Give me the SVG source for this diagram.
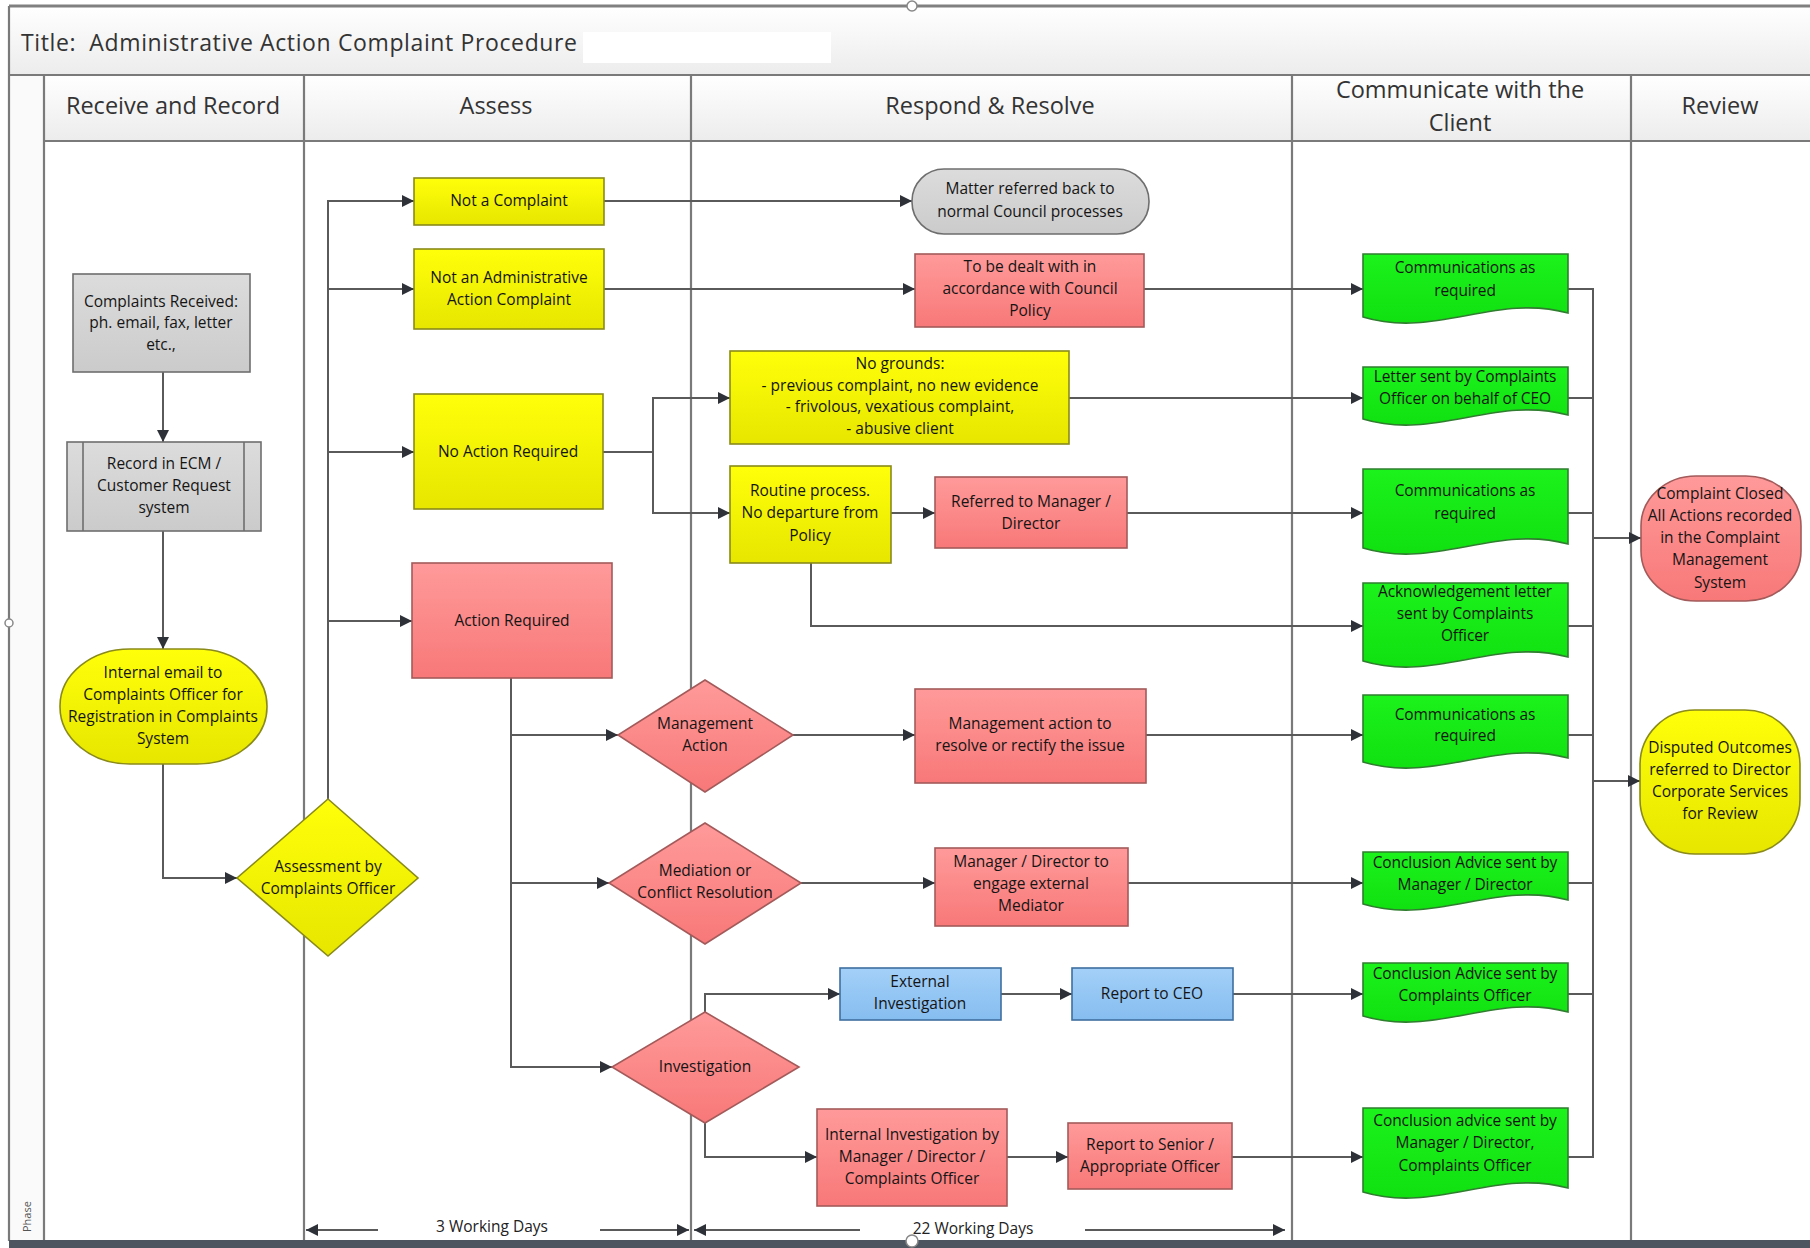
<svg xmlns="http://www.w3.org/2000/svg" width="1810" height="1248" viewBox="0 0 1810 1248">
<defs>
<linearGradient id="gBar" x1="0" y1="0" x2="0" y2="1"><stop offset="0" stop-color="#ffffff"/><stop offset="1" stop-color="#ececec"/></linearGradient>
<linearGradient id="gY" x1="0" y1="0" x2="0" y2="1"><stop offset="0" stop-color="#ffff0a"/><stop offset="1" stop-color="#e6e600"/></linearGradient>
<linearGradient id="gR" x1="0" y1="0" x2="0" y2="1"><stop offset="0" stop-color="#ff9a9a"/><stop offset="1" stop-color="#f87878"/></linearGradient>
<linearGradient id="gG" x1="0" y1="0" x2="0" y2="1"><stop offset="0" stop-color="#1cf21c"/><stop offset="1" stop-color="#10e010"/></linearGradient>
<linearGradient id="gB" x1="0" y1="0" x2="0" y2="1"><stop offset="0" stop-color="#a3d0f8"/><stop offset="1" stop-color="#86bdf0"/></linearGradient>
<linearGradient id="gX" x1="0" y1="0" x2="0" y2="1"><stop offset="0" stop-color="#dcdcdc"/><stop offset="1" stop-color="#cbcbcb"/></linearGradient>
<marker id="arr" viewBox="0 0 10 10" refX="10" refY="5" markerWidth="13" markerHeight="12" markerUnits="userSpaceOnUse" orient="auto-start-reverse"><path d="M0,0 L10,5 L0,10 z" fill="#2e3238"/></marker>
<style>
.lane{stroke:#7a7a7a;stroke-width:2.2;fill:none}
.hdr{font-family:"Open Sans","Liberation Sans",Arial,sans-serif;font-size:23.5px;fill:#333;text-anchor:middle}
.t{font-family:"Open Sans","Liberation Sans",Arial,sans-serif;font-size:15.5px;fill:#151515;text-anchor:middle}
.td{font-family:"Open Sans","Liberation Sans",Arial,sans-serif;font-size:15.5px;fill:#151515;text-anchor:middle;letter-spacing:-0.1px}
.yel{fill:url(#gY);stroke:#8a8a1a;stroke-width:1.6}
.red{fill:url(#gR);stroke:#a35a5a;stroke-width:1.6}
.grn{fill:url(#gG);stroke:#2f7d2f;stroke-width:1.6}
.blu{fill:url(#gB);stroke:#3f6f9f;stroke-width:1.6}
.gry{fill:url(#gX);stroke:#6e6e6e;stroke-width:1.6}
.c{fill:none;stroke:#5a5a5a;stroke-width:2}
.ca{fill:none;stroke:#5a5a5a;stroke-width:2;marker-end:url(#arr)}
.dim{fill:none;stroke:#5a5a5a;stroke-width:2.2;marker-end:url(#arr)}
.hd{fill:#fff;stroke:#888;stroke-width:1.5}
</style>
</defs>
<rect width="1810" height="1248" fill="#ffffff"/>
<g id="frame">
<rect x="9" y="6" width="1801" height="69" fill="url(#gBar)"/>
<rect x="583" y="32" width="248" height="31" fill="#ffffff"/>
<rect x="44" y="75" width="1766" height="66" fill="url(#gBar)"/>
<rect x="9" y="75" width="35" height="1166" fill="#fafafa"/>
<line x1="9" y1="6" x2="1810" y2="6" stroke="#808080" stroke-width="3"/>
<line x1="9" y1="75" x2="1810" y2="75" class="lane" stroke-width="3"/>
<line x1="44" y1="141" x2="1810" y2="141" class="lane" stroke-width="3"/>
<line x1="9" y1="6" x2="9" y2="1241" class="lane"/>
<line x1="44" y1="75" x2="44" y2="1241" class="lane"/>
<line x1="304" y1="75" x2="304" y2="1241" class="lane"/>
<line x1="691" y1="75" x2="691" y2="1241" class="lane"/>
<line x1="1292" y1="75" x2="1292" y2="1241" class="lane"/>
<line x1="1631" y1="75" x2="1631" y2="1241" class="lane"/>
<rect x="9" y="1240" width="1801" height="8" fill="#4d5660"/>
<circle cx="912" cy="6" r="5" class="hd"/>
<circle cx="912" cy="1241" r="6" class="hd"/>
<circle cx="9" cy="623" r="4" class="hd"/>
<text x="21" y="51" font-family="'Open Sans','Liberation Sans',Arial,sans-serif" font-size="23" fill="#333" xml:space="preserve" textLength="556" lengthAdjust="spacing">Title:  Administrative Action Complaint Procedure</text>
<text class="hdr" x="173" y="114">Receive and Record</text>
<text class="hdr" x="496" y="114">Assess</text>
<text class="hdr" x="990" y="114">Respond &amp; Resolve</text>
<text class="hdr" x="1460" y="98">Communicate with the</text>
<text class="hdr" x="1460" y="131">Client</text>
<text class="hdr" x="1720" y="114">Review</text>
<text x="31" y="1232" transform="rotate(-90 31 1232)" font-family="'Open Sans','Liberation Sans',Arial,sans-serif" font-size="11" fill="#555">Phase</text>
</g>
<g id="connectors">
<path class="ca" d="M163,372 V442"/>
<path class="ca" d="M163,531 V649"/>
<path class="ca" d="M163,764 V878 H237"/>
<path class="ca" d="M328,799 V201 H414"/>
<path class="ca" d="M328,289 H414"/>
<path class="ca" d="M328,452 H414"/>
<path class="ca" d="M328,621 H412"/>
<path class="ca" d="M604,201 H912"/>
<path class="ca" d="M604,289 H915"/>
<path class="ca" d="M1144,289 H1363"/>
<path class="ca" d="M603,452 H653 V398 H730"/>
<path class="ca" d="M653,452 V513 H730"/>
<path class="ca" d="M1069,398 H1363"/>
<path class="ca" d="M891,513 H935"/>
<path class="ca" d="M1127,513 H1363"/>
<path class="ca" d="M811,563 V626 H1363"/>
<path class="ca" d="M511,678 V1067 H612"/>
<path class="ca" d="M511,735 H618"/>
<path class="ca" d="M511,883 H609"/>
<path class="ca" d="M793,735 H915"/>
<path class="ca" d="M1146,735 H1363"/>
<path class="ca" d="M801,883 H935"/>
<path class="ca" d="M1128,883 H1363"/>
<path class="ca" d="M705,1012 V994 H840"/>
<path class="ca" d="M1001,994 H1072"/>
<path class="ca" d="M1233,994 H1363"/>
<path class="ca" d="M705,1123 V1157 H817"/>
<path class="ca" d="M1007,1157 H1068"/>
<path class="ca" d="M1232,1157 H1363"/>
<path class="c" d="M1568,289 H1593 V1157 H1568 M1568,398 H1593 M1568,513 H1593 M1568,626 H1593 M1568,735 H1593 M1568,883 H1593 M1568,994 H1593"/>
<path class="ca" d="M1593,538 H1641"/>
<path class="ca" d="M1593,781 H1640"/>
<path class="dim" d="M378,1230 H306"/>
<path class="dim" d="M600,1230 H689"/>
<path class="dim" d="M860,1230 H694"/>
<path class="dim" d="M1085,1230 H1285"/>
<text x="492" y="1232" font-family="'Open Sans','Liberation Sans',Arial,sans-serif" font-size="15.5" fill="#222" text-anchor="middle">3 Working Days</text>
<text x="973" y="1234" font-family="'Open Sans','Liberation Sans',Arial,sans-serif" font-size="15.5" fill="#222" text-anchor="middle">22 Working Days</text>
</g>
<g id="n-received"><rect class="gry" x="73" y="274" width="177" height="98"/><text class="t"><tspan x="161" y="307">Complaints Received:</tspan><tspan x="161" y="328">ph. email, fax, letter</tspan><tspan x="161" y="350">etc.,</tspan></text></g>
<g id="n-record"><rect class="gry" x="67" y="442" width="194" height="89"/><line x1="83" y1="442" x2="83" y2="531" stroke="#6e6e6e" stroke-width="1.6"/><line x1="244" y1="442" x2="244" y2="531" stroke="#6e6e6e" stroke-width="1.6"/><text class="t"><tspan x="164" y="469">Record in ECM /</tspan><tspan x="164" y="491">Customer Request</tspan><tspan x="164" y="513">system</tspan></text></g>
<g id="n-email"><rect class="yel" x="60" y="649" width="207" height="115" rx="70" ry="57"/><text class="t"><tspan x="163" y="678">Internal email to</tspan><tspan x="163" y="700">Complaints Officer for</tspan><tspan x="163" y="722">Registration in Complaints</tspan><tspan x="163" y="744">System</tspan></text></g>
<g id="n-assess"><path class="yel" d="M328,799 L418,878 L328,956 L237,878 Z"/><text class="t"><tspan x="328" y="872">Assessment by</tspan><tspan x="328" y="894">Complaints Officer</tspan></text></g>
<g id="n-notcomplaint"><rect class="yel" x="414" y="178" width="190" height="47"/><text class="t"><tspan x="509" y="206">Not a Complaint</tspan></text></g>
<g id="n-notadmin"><rect class="yel" x="414" y="249" width="190" height="80"/><text class="t"><tspan x="509" y="283">Not an Administrative</tspan><tspan x="509" y="305">Action Complaint</tspan></text></g>
<g id="n-noaction"><rect class="yel" x="414" y="394" width="189" height="115"/><text class="t"><tspan x="508" y="457">No Action Required</tspan></text></g>
<g id="n-action"><rect class="red" x="412" y="563" width="200" height="115"/><text class="t"><tspan x="512" y="626">Action Required</tspan></text></g>
<g id="n-matter"><rect class="gry" x="912" y="169" width="237" height="65" rx="32" ry="32"/><text class="t"><tspan x="1030" y="194">Matter referred back to</tspan><tspan x="1030" y="217">normal Council processes</tspan></text></g>
<g id="n-dealt"><rect class="red" x="915" y="254" width="229" height="73"/><text class="t"><tspan x="1030" y="272">To be dealt with in</tspan><tspan x="1030" y="294">accordance with Council</tspan><tspan x="1030" y="316">Policy</tspan></text></g>
<g id="n-nogrounds"><rect class="yel" x="730" y="351" width="339" height="93"/><text class="t"><tspan x="900" y="369">No grounds:</tspan><tspan x="900" y="391">- previous complaint, no new evidence</tspan><tspan x="900" y="412">- frivolous, vexatious complaint,</tspan><tspan x="900" y="434">- abusive client</tspan></text></g>
<g id="n-routine"><rect class="yel" x="730" y="466" width="161" height="97"/><text class="t"><tspan x="810" y="496">Routine process.</tspan><tspan x="810" y="518">No departure from</tspan><tspan x="810" y="541">Policy</tspan></text></g>
<g id="n-referred"><rect class="red" x="935" y="477" width="192" height="71"/><text class="t"><tspan x="1031" y="507">Referred to Manager /</tspan><tspan x="1031" y="529">Director</tspan></text></g>
<g id="n-mgmtdec"><path class="red" d="M705,680 L793,735 L705,792 L618,735 Z"/><text class="t"><tspan x="705" y="729">Management</tspan><tspan x="705" y="751">Action</tspan></text></g>
<g id="n-mgmtact"><rect class="red" x="915" y="689" width="231" height="94"/><text class="t"><tspan x="1030" y="729">Management action to</tspan><tspan x="1030" y="751">resolve or rectify the issue</tspan></text></g>
<g id="n-mediation"><path class="red" d="M705,823 L801,883 L705,944 L609,883 Z"/><text class="t"><tspan x="705" y="876">Mediation or</tspan><tspan x="705" y="898">Conflict Resolution</tspan></text></g>
<g id="n-mediator"><rect class="red" x="935" y="848" width="193" height="78"/><text class="t"><tspan x="1031" y="867">Manager / Director to</tspan><tspan x="1031" y="889">engage external</tspan><tspan x="1031" y="911">Mediator</tspan></text></g>
<g id="n-external"><rect class="blu" x="840" y="968" width="161" height="52"/><text class="t"><tspan x="920" y="987">External</tspan><tspan x="920" y="1009">Investigation</tspan></text></g>
<g id="n-ceo"><rect class="blu" x="1072" y="968" width="161" height="52"/><text class="t"><tspan x="1152" y="999">Report to CEO</tspan></text></g>
<g id="n-investigation"><path class="red" d="M705,1012 L799,1067 L705,1123 L612,1067 Z"/><text class="t"><tspan x="705" y="1072">Investigation</tspan></text></g>
<g id="n-internal"><rect class="red" x="817" y="1109" width="190" height="97"/><text class="t"><tspan x="912" y="1140">Internal Investigation by</tspan><tspan x="912" y="1162">Manager / Director /</tspan><tspan x="912" y="1184">Complaints Officer</tspan></text></g>
<g id="n-senior"><rect class="red" x="1068" y="1123" width="164" height="66"/><text class="t"><tspan x="1150" y="1150">Report to Senior /</tspan><tspan x="1150" y="1172">Appropriate Officer</tspan></text></g>
<g id="d-a"><path class="grn" d="M1363,254 H1568 V313 C1496,293 1435,339 1363,317 Z"/><text class="td"><tspan x="1465" y="273">Communications as</tspan><tspan x="1465" y="296">required</tspan></text></g>
<g id="d-b"><path class="grn" d="M1363,367 H1568 V415 C1496,395 1435,441 1363,419 Z"/><text class="td"><tspan x="1465" y="382">Letter sent by Complaints</tspan><tspan x="1465" y="404">Officer on behalf of CEO</tspan></text></g>
<g id="d-c"><path class="grn" d="M1363,469 H1568 V544 C1496,524 1435,570 1363,548 Z"/><text class="td"><tspan x="1465" y="496">Communications as</tspan><tspan x="1465" y="519">required</tspan></text></g>
<g id="d-d"><path class="grn" d="M1363,583 H1568 V657 C1496,637 1435,683 1363,661 Z"/><text class="td"><tspan x="1465" y="597">Acknowledgement letter</tspan><tspan x="1465" y="619">sent by Complaints</tspan><tspan x="1465" y="641">Officer</tspan></text></g>
<g id="d-e"><path class="grn" d="M1363,695 H1568 V758 C1496,738 1435,784 1363,762 Z"/><text class="td"><tspan x="1465" y="720">Communications as</tspan><tspan x="1465" y="741">required</tspan></text></g>
<g id="d-f"><path class="grn" d="M1363,852 H1568 V900 C1496,880 1435,926 1363,904 Z"/><text class="td"><tspan x="1465" y="868">Conclusion Advice sent by</tspan><tspan x="1465" y="890">Manager / Director</tspan></text></g>
<g id="d-g"><path class="grn" d="M1363,963 H1568 V1012 C1496,992 1435,1038 1363,1016 Z"/><text class="td"><tspan x="1465" y="979">Conclusion Advice sent by</tspan><tspan x="1465" y="1001">Complaints Officer</tspan></text></g>
<g id="d-h"><path class="grn" d="M1363,1108 H1568 V1188 C1496,1168 1435,1214 1363,1192 Z"/><text class="td"><tspan x="1465" y="1126">Conclusion advice sent by</tspan><tspan x="1465" y="1148">Manager / Director,</tspan><tspan x="1465" y="1171">Complaints Officer</tspan></text></g>
<g id="n-closed"><rect class="red" x="1641" y="476" width="160" height="125" rx="55" ry="50"/><text class="t"><tspan x="1720" y="499">Complaint Closed</tspan><tspan x="1720" y="521">All Actions recorded</tspan><tspan x="1720" y="543">in the Complaint</tspan><tspan x="1720" y="565">Management</tspan><tspan x="1720" y="588">System</tspan></text></g>
<g id="n-disputed"><rect class="yel" x="1640" y="710" width="160" height="144" rx="55" ry="55"/><text class="t"><tspan x="1720" y="753">Disputed Outcomes</tspan><tspan x="1720" y="775">referred to Director</tspan><tspan x="1720" y="797">Corporate Services</tspan><tspan x="1720" y="819">for Review</tspan></text></g>
</svg>
